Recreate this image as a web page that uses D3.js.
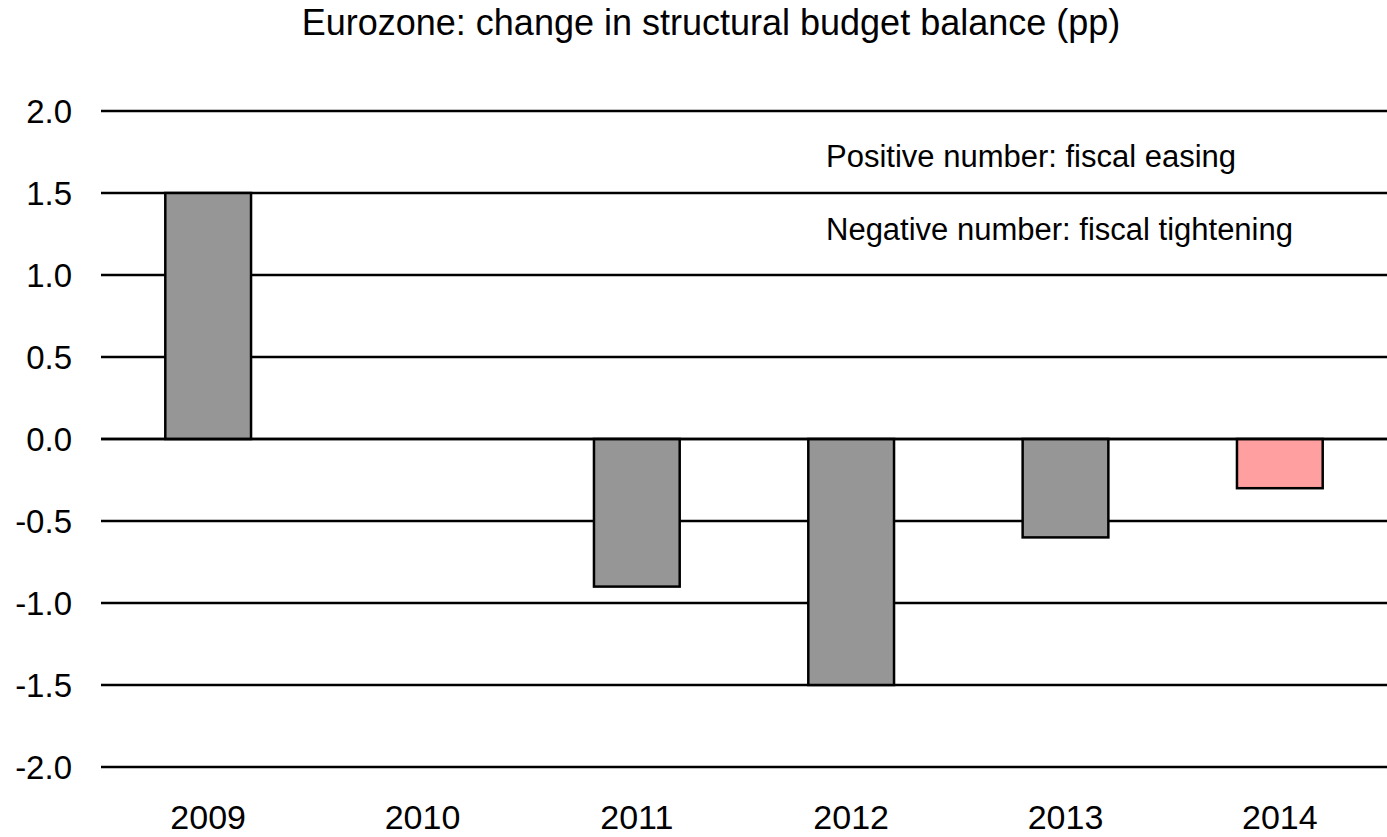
<!DOCTYPE html>
<html>
<head>
<meta charset="utf-8">
<script src="https://cdn.jsdelivr.net/npm/d3@7"></script>
<style>
  html, body { margin: 0; padding: 0; background: #fff; }
  svg { display: block; font-family: "Liberation Sans", Arial, sans-serif; }
</style>
</head>
<body>
<svg id="chart" width="1387" height="837"></svg>
<script>
// Eurozone change in structural budget balance, percentage points
const years = ["2009", "2010", "2011", "2012", "2013", "2014"];
const values = [1.5, 0.0, -0.9, -1.5, -0.6, -0.3];
const barColors = ["#969696", "#969696", "#969696", "#969696", "#969696", "#FF9F9F"];
const yTicks = [2.0, 1.5, 1.0, 0.5, 0.0, -0.5, -1.0, -1.5, -2.0];
const notes = ["Positive number: fiscal easing", "Negative number: fiscal tightening"];

const svg = d3.select("#chart");
const margin = { left: 101, right: 0 };
const width = 1387, height = 837;

const x = d3.scaleBand()
  .domain(years)
  .range([margin.left, width - margin.right])
  .paddingInner(0.6)
  .paddingOuter(0.3);

const y = d3.scaleLinear()
  .domain([-2, 2])
  .range([767, 111]);

// title
svg.append("text")
  .attr("x", 711)
  .attr("y", 35)
  .attr("text-anchor", "middle")
  .attr("font-size", 36)
  .attr("fill", "#000")
  .text("Eurozone: change in structural budget balance (pp)");

// horizontal gridlines
svg.append("g")
  .selectAll("line")
  .data(yTicks)
  .join("line")
  .attr("x1", margin.left)
  .attr("x2", width)
  .attr("y1", d => y(d))
  .attr("y2", d => y(d))
  .attr("stroke", "#000")
  .attr("stroke-width", 2.5);

// y-axis labels (plain hyphen for negatives)
const fmt = d => d3.format(".1f")(d).replace("\u2212", "-");
svg.append("g")
  .selectAll("text")
  .data(yTicks)
  .join("text")
  .attr("x", 72)
  .attr("y", d => y(d))
  .attr("dy", "0.36em")
  .attr("text-anchor", "end")
  .attr("font-size", 33)
  .text(fmt);

// bars
svg.append("g")
  .selectAll("rect")
  .data(values.map((v, i) => ({ year: years[i], v, c: barColors[i] })).filter(d => d.v !== 0))
  .join("rect")
  .attr("x", d => x(d.year))
  .attr("width", x.bandwidth())
  .attr("y", d => y(Math.max(0, d.v)))
  .attr("height", d => Math.abs(y(d.v) - y(0)))
  .attr("fill", d => d.c)
  .attr("stroke", "#000")
  .attr("stroke-width", 2.5);

// zero line drawn over the bars
svg.append("line")
  .attr("x1", margin.left)
  .attr("x2", width)
  .attr("y1", y(0))
  .attr("y2", y(0))
  .attr("stroke", "#000")
  .attr("stroke-width", 2.5);

// x-axis labels
svg.append("g")
  .selectAll("text")
  .data(years)
  .join("text")
  .attr("x", d => x(d) + x.bandwidth() / 2)
  .attr("y", 829)
  .attr("text-anchor", "middle")
  .attr("font-size", 34)
  .text(d => d);

// annotation notes
svg.append("g")
  .selectAll("text")
  .data(notes)
  .join("text")
  .attr("x", 826)
  .attr("y", (d, i) => 167 + i * 73)
  .attr("font-size", 31)
  .text(d => d);
</script>
</body>
</html>
